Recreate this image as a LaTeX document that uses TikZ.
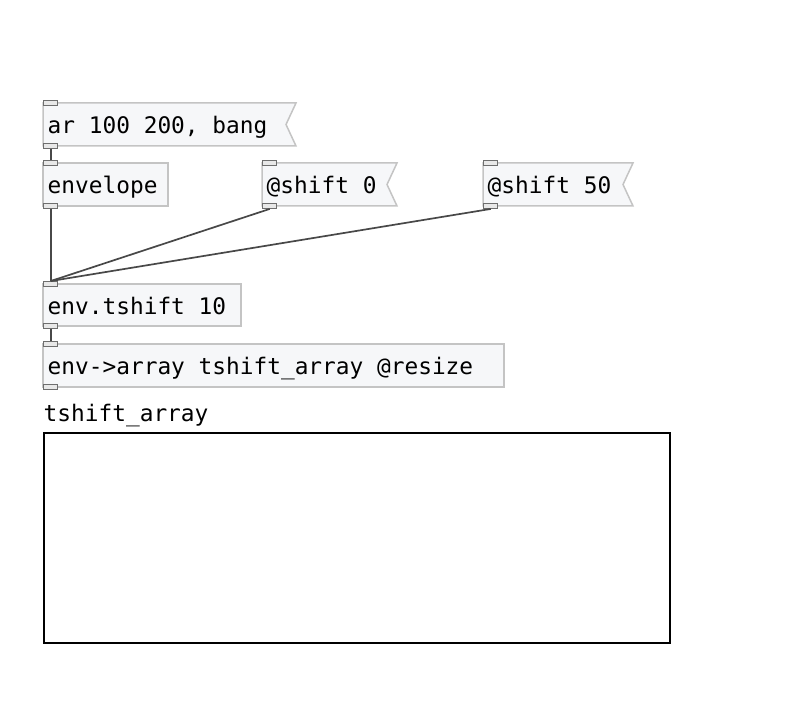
\documentclass[tikz,border=0pt]{standalone}
\usepackage{fontspec}
\newfontfamily\pdfont{DejaVu Sans Mono}
\definecolor{boxfill}{HTML}{F6F7F9}
\definecolor{boxline}{HTML}{C4C4C4}
\definecolor{wire}{HTML}{484848}
\definecolor{ioline}{HTML}{6E6E6E}
\definecolor{iofill}{HTML}{E8E8E8}
\begin{document}
\begin{tikzpicture}[x=1pt,y=-1pt,
  pdshape/.style={draw=none, fill=none, minimum height=43pt, anchor=north west, inner sep=0pt, outer sep=0pt},
  objline/.style={draw=boxline, fill=boxfill, line width=1.5pt},
  txt/.style={font=\pdfont\fontsize{22.8}{27}\selectfont, inner sep=0pt, anchor=base west, xshift=4.5pt, yshift=-30.5pt},
  iolet/.style={draw=ioline, fill=iofill, line width=1.4pt, minimum width=14pt, minimum height=4.5pt, inner sep=0pt, anchor=west},
  wire/.style={draw=wire, line width=1.7pt}]
\useasboundingbox (0,0) rectangle (796,711);

% message: ar 100 200, bang
\node[pdshape, minimum width=253pt] (ar) at (43,103) {};
\draw[objline] (ar.north west) -- (ar.north east) -- ([xshift=-10pt]ar.east) -- (ar.south east) -- (ar.south west) -- cycle;
\node[txt] (art) at (ar.north west) {ar 100 200, bang};

% object: envelope
\node[pdshape, minimum width=125pt] (env) at (43,163) {};
\draw[objline] (env.north west) rectangle (env.south east);
\node[txt] (envt) at (env.north west) {envelope};

% message: @shift 0
\node[pdshape, minimum width=135pt] (sh0) at (262,163) {};
\draw[objline] (sh0.north west) -- (sh0.north east) -- ([xshift=-10pt]sh0.east) -- (sh0.south east) -- (sh0.south west) -- cycle;
\node[txt] (sh0t) at (sh0.north west) {@shift 0};

% message: @shift 50
\node[pdshape, minimum width=150pt] (sh50) at (483,163) {};
\draw[objline] (sh50.north west) -- (sh50.north east) -- ([xshift=-10pt]sh50.east) -- (sh50.south east) -- (sh50.south west) -- cycle;
\node[txt] (sh50t) at (sh50.north west) {@shift 50};

% object: env.tshift 10
\node[pdshape, minimum width=198pt, minimum height=42pt] (ts) at (43,284) {};
\draw[objline] (ts.north west) rectangle (ts.south east);
\node[txt] (tst) at (ts.north west) {env.tshift 10};

% object: env->array
\node[pdshape, minimum width=461pt] (ea) at (43,344) {};
\draw[objline] (ea.north west) rectangle (ea.south east);
\node[txt] (eat) at (ea.north west) {env->array tshift\_array @resize};

% inlets / outlets
\node[iolet] (ar-in) at (ar.north west) {};
\node[iolet] (ar-out) at (ar.south west) {};
\node[iolet] (env-in) at (env.north west) {};
\node[iolet] (env-out) at (env.south west) {};
\node[iolet] (sh0-in) at (sh0.north west) {};
\node[iolet] (sh0-out) at (sh0.south west) {};
\node[iolet] (sh50-in) at (sh50.north west) {};
\node[iolet] (sh50-out) at (sh50.south west) {};
\node[iolet] (ts-in) at (ts.north west) {};
\node[iolet] (ts-out) at (ts.south west) {};
\node[iolet] (ea-in) at (ea.north west) {};
\node[iolet] (ea-out) at (ea.south west) {};

% wires
\draw[wire] (ar-out.south) -- (env-in.north);
\draw[wire] (env-out.south) -- (ts-in.north);
\draw[wire] (sh0-out.south) -- (ts-in.north);
\draw[wire] (sh50-out.south) -- (ts-in.north);
\draw[wire] (ts-out.south) -- (ea-in.north);

% array
\node[font=\pdfont\fontsize{22.8}{27}\selectfont, inner sep=0pt, anchor=base west] (arrlabel) at (43.5,422) {tshift\_array};
\node[draw=black, fill=white, line width=2pt, minimum width=626pt, minimum height=209pt, anchor=north west, inner sep=0pt] (arr) at (42.5,432.5) {};
\end{tikzpicture}
\end{document}
